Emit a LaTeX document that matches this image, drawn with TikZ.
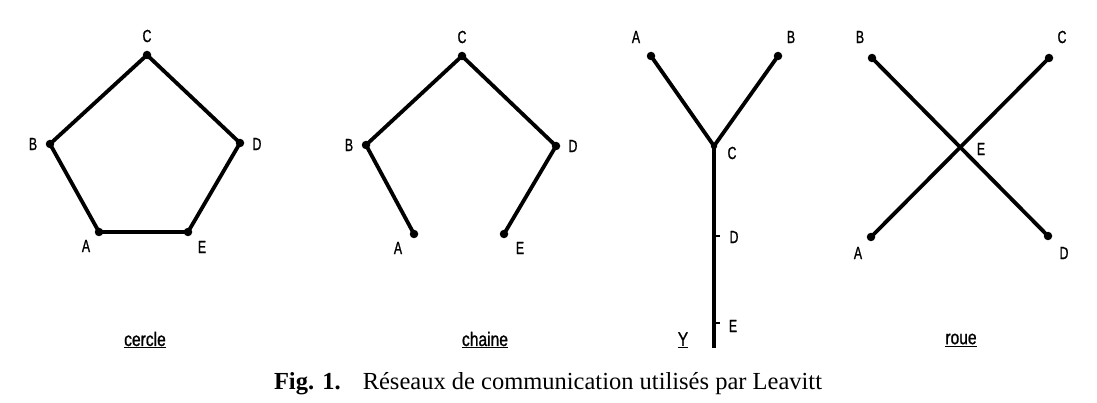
\documentclass[tikz,border=0pt]{standalone}
\usepackage{fontspec}
\setmainfont{Liberation Serif}
\newfontfamily\labfont[FakeStretch=0.7,FakeBold=1]{Liberation Sans}
\newfontfamily\ttlfont[FakeStretch=0.8,FakeBold=1]{Liberation Sans}
\begin{document}
\begin{tikzpicture}[x=1pt,y=-1pt,
  pt/.style={circle,fill=black,inner sep=0pt,minimum size=8.5pt},
  lbl/.style={font=\labfont\fontsize{17.5}{17.5}\selectfont,inner sep=0pt},
  ttl/.style={font=\ttlfont\fontsize{19.5}{19.5}\selectfont,inner sep=0pt},
  edge/.style={line width=3.8pt,line cap=round,line join=round}]
\useasboundingbox[fill=white] (0,0) rectangle (1097,403);
% cercle
\node[pt] (cA) at (99,232) {};
\node[pt] (cB) at (50,144) {};
\node[pt] (cC) at (147,55) {};
\node[pt] (cD) at (240,143) {};
\node[pt] (cE) at (188,232) {};
\draw[edge] (cA.center) -- (cB.center) -- (cC.center) -- (cD.center) -- (cE.center) -- cycle;
\node[lbl] (lcA) at (86,246) {A};
\node[lbl] (lcB) at (33,144) {B};
\node[lbl] (lcC) at (147,36) {C};
\node[lbl] (lcD) at (257,144) {D};
\node[lbl] (lcE) at (202,247) {E};
\node[ttl] (tc) at (145,340) {\underline{cercle}};
% chaine
\node[pt] (hA) at (414,234) {};
\node[pt] (hB) at (366,145) {};
\node[pt] (hC) at (462,56) {};
\node[pt] (hD) at (556,146) {};
\node[pt] (hE) at (504,234) {};
\draw[edge] (hA.center) -- (hB.center) -- (hC.center) -- (hD.center) -- (hE.center);
\node[lbl] (lhA) at (398,248) {A};
\node[lbl] (lhB) at (349,145) {B};
\node[lbl] (lhC) at (462,37) {C};
\node[lbl] (lhD) at (573,146) {D};
\node[lbl] (lhE) at (520,248) {E};
\node[ttl] (th) at (485,340) {\underline{chaine}};
% Y
\node[pt] (yA) at (651,56) {};
\node[pt] (yB) at (778,56) {};
\node[pt,minimum size=6.5pt] (yC) at (714,146) {};
\coordinate (yD) at (714,236);
\coordinate (yE) at (714,323);
\coordinate (yF) at (714,348);
\draw[edge] (yA.center) -- (yC.center) -- (yB.center);
\draw[line width=3.8pt] (yC.center) -- (yF);
\draw[line width=1.8pt] (yD) -- ++(6,0);
\draw[line width=1.8pt] (yE) -- ++(6,0);
\node[lbl] (lyA) at (636,37) {A};
\node[lbl] (lyB) at (791,37) {B};
\node[lbl] (lyC) at (732,153) {C};
\node[lbl] (lyD) at (734,237) {D};
\node[lbl] (lyE) at (733,326) {E};
\node[ttl] (ty) at (683,340) {\underline{Y}};
% roue
\node[pt] (rA) at (871,237) {};
\node[pt] (rB) at (872,58) {};
\node[pt] (rC) at (1049,58) {};
\node[pt] (rD) at (1048,236) {};
\coordinate (rE) at (961,148);
\draw[edge] (rB.center) -- (rD.center);
\draw[edge] (rA.center) -- (rC.center);
\node[lbl] (lrA) at (858,253) {A};
\node[lbl] (lrB) at (860,37) {B};
\node[lbl] (lrC) at (1062,37) {C};
\node[lbl] (lrD) at (1064,253) {D};
\node[lbl] (lrE) at (981,149) {E};
\node[ttl] (tr) at (961,340) {\underline{roue}};
% caption
\node[inner sep=0pt,font=\fontsize{24.5}{24.5}\selectfont] (cap) at (548,384) {\textbf{Fig. 1.}\hspace{0.9em}Réseaux de communication utilisés par Leavitt};
\end{tikzpicture}
\end{document}
